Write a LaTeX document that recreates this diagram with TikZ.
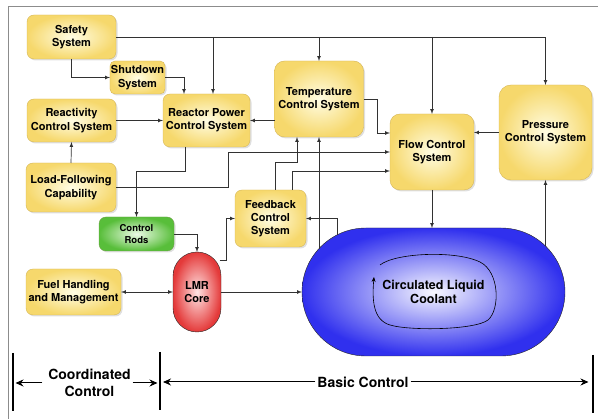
\documentclass[tikz,border=0pt]{standalone}
\usepackage{fontspec}
\setmainfont{TeX Gyre Heros}
\usetikzlibrary{positioning,shadows,arrows.meta}

\definecolor{boxrim}{RGB}{214,182,86}
\definecolor{boxout}{RGB}{246,216,108}
\definecolor{boxin}{RGB}{255,253,228}
\definecolor{rodrim}{RGB}{110,160,70}
\definecolor{rodout}{RGB}{88,190,58}
\definecolor{rodin}{RGB}{236,250,230}
\definecolor{coreout}{RGB}{228,58,58}
\definecolor{corein}{RGB}{255,228,228}
\definecolor{poolout}{RGB}{48,48,238}
\definecolor{poolin}{RGB}{248,248,255}
\definecolor{wirecol}{RGB}{50,50,50}

\begin{document}
\begin{tikzpicture}[x=1pt,y=-1pt,
				every node/.style={font=\bfseries\fontsize{11}{13.3}\selectfont,align=center,inner sep=1pt,outer sep=0pt},
				block/.style={draw=boxrim,rounded corners=7pt,inner color=boxin,outer color=boxout,
					drop shadow={shadow xshift=1.5pt,shadow yshift=-1.5pt,opacity=.25}},
				rodblock/.style={block,draw=rodrim,inner color=rodin,outer color=rodout,
					font=\bfseries\fontsize{9.5}{11.5}\selectfont},
				wire/.style={draw=wirecol,line width=0.7pt},
				bar/.style={line width=1.8pt},
				span/.style={font=\bfseries\fontsize{14}{17.7}\selectfont},
				spanarrow/.style={line width=1pt,-{Stealth[length=8pt,width=7pt]}}]
				\useasboundingbox (0,0) rectangle (598,419);
				\draw[black!45,line width=0.8pt] (8,419) -- (8,6) -- (598,6);
				
				\node (safety)     [block,minimum width=89pt,minimum height=44pt] at (71.5,37) {Safety\\System};
				\node (shutdown)   [block,minimum width=55pt,minimum height=33pt,rounded corners=5pt] at (137.5,77.5) {Shutdown\\System};
				\node (reactivity) [block,minimum width=89pt,minimum height=43pt] at (71.5,120.5) {Reactivity\\Control System};
				\node (rpcs)       [block,minimum width=87pt,minimum height=53pt] at (206.5,120.5) {Reactor Power\\Control System};
				\node (loadfollow) [block,minimum width=90pt,minimum height=49pt] at (71,187.5) {Load-Following\\Capability};
				\node (temp)       [block,minimum width=89pt,minimum height=76pt,rounded corners=10pt] at (319,99) {Temperature\\Control System};
				\node (flow)       [block,minimum width=84pt,minimum height=76pt,rounded corners=10pt] at (432,152) {Flow Control\\System};
				\node (pressure)   [block,minimum width=93pt,minimum height=95pt,rounded corners=12pt] at (545.5,132.5) {Pressure\\Control System};
				\node (rods)       [rodblock,minimum width=75pt,minimum height=34pt] at (136.5,234) {Control\\Rods};
				\node (feedback)   [block,minimum width=71pt,minimum height=57pt] at (270.5,218.5) {Feedback\\Control\\System};
				\node (fuel)       [block,minimum width=95pt,minimum height=46pt] at (73.5,292) {Fuel Handling\\and Management};
				\node (core)       [draw=black!85,rounded corners=24pt,inner color=corein,outer color=coreout,
				                    minimum width=48pt,minimum height=80pt] at (197,292) {LMR\\Core};
				\node (coolant)    [draw=black!85,rounded corners=64pt,inner color=poolin,outer color=poolout,
				                    minimum width=263pt,minimum height=128pt,font=\bfseries\fontsize{12.5}{14}\selectfont] at (433.5,292) {Circulated Liquid\\Coolant};
				
				% loop inside the coolant
				\draw[line width=0.6pt,-{Stealth[length=5pt,width=4pt]}] (380,265) .. controls (395,253) and (455,250) .. (480,262)
					.. controls (500,272) and (500,310) .. (488,320)
					.. controls (475,330) and (410,331) .. (390,325)
					.. controls (373,320) and (372,300) .. (374,277);
				
				\draw[wire,-latex] (safety.east) -| (pressure.north);
				\draw[wire,-latex] ([xshift=6.5pt]rpcs.north |- safety.east) -- ([xshift=6.5pt]rpcs.north);
				\draw[wire,-latex] (temp.north |- safety.east) -- (temp.north);
				\draw[wire,-latex] (flow.north |- safety.east) -- (flow.north);
				\draw[wire,-latex] (safety.south) |- (shutdown.west);
				\draw[wire,-latex] (shutdown.east) -| ([xshift=-22.5pt]rpcs.north);
				\draw[wire,-latex] (reactivity.east) -- (rpcs.west);
				\draw[wire,-latex] (loadfollow.north) -- (reactivity.south);
				\draw[wire,-latex] (temp.west |- rpcs.east) -- (rpcs.east);
				\draw[wire,-latex] ([xshift=-21.5pt]rpcs.south) -- ++(0,24) -| (rods.north);
				\draw[wire,-latex] (loadfollow.east) -- ++(112,0) |- (flow.west);
				\draw[wire,-latex] (rods.east) -| (core.north);
				\draw[wire,-latex] ([shift={(22.6,-32)}]core.center) -- ++(6.4,0) |- (feedback.west);
				\draw[wire,-latex] (core.east) -- (coolant.west);
				\draw[wire,latex-latex] (fuel.east) -- (core.west);
				\draw[wire,-latex] (flow.south) -- (flow.south |- coolant.north);
				\draw[wire,-latex] ([shift={(112,-46)}]coolant.center) -- (pressure.south);
				\draw[wire,-latex] ([shift={(-96.5,-57)}]coolant.center) |- (feedback.east);
				\draw[wire,-latex] ([shift={(-114.5,-43.4)}]coolant.center) -- (temp.south);
				\draw[wire,-latex] ([xshift=4.5pt]feedback.north) -- ++(0,-28) -| ([xshift=-22pt]temp.south);
				\draw[wire,-latex] ([xshift=21.5pt]feedback.north) |- ([yshift=-19pt]flow.west);
				\draw[wire,-latex] (temp.east) -- ++(14,0) |- ([yshift=19pt]flow.west);
				\draw[wire,-latex] (pressure.west) -- (flow.east |- pressure.west);
				
				% control ranges
				\draw[bar] (13,353) coordinate (barA) -- (13,411);
				\draw[bar] (160,352) coordinate (barB) -- (160,410);
				\draw[bar] (593,355) coordinate (barC) -- (593,413);
				\node (coord) [span] at (89.5,383) {Coordinated\\Control};
				\node (basic) [span] at (363,382) {Basic Control};
				\draw[spanarrow,shorten <=5pt,shorten >=2.5pt] (coord.west) -- (coord.west -| barA);
				\draw[spanarrow,shorten <=1pt,shorten >=2.5pt] (coord.east) -- (coord.east -| barB);
				\draw[spanarrow,shorten <=1pt,shorten >=3pt] (basic.west) -- (basic.west -| barB);
				\draw[spanarrow,shorten <=1pt,shorten >=4.5pt] (basic.east) -- (basic.east -| barC);
			\end{tikzpicture}
\end{document}
